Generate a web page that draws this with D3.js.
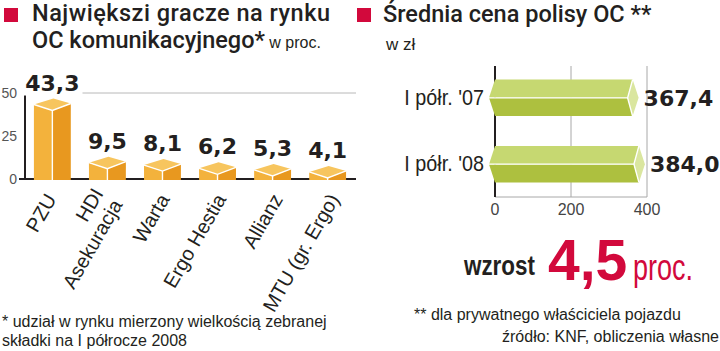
<!DOCTYPE html>
<html><head><meta charset="utf-8">
<script src="https://cdn.jsdelivr.net/npm/d3@7"></script>
<style>body{margin:0;background:#fff} svg{display:block}</style>
</head><body><svg id="c" width="720" height="351"></svg>
<script>
// ---------- data ----------
const companies = ["PZU", "HDI|Asekuracja", "Warta", "Ergo Hestia", "Allianz", "MTU (gr. Ergo)"];
const shares = [43.3, 9.5, 8.1, 6.2, 5.3, 4.1];
const shareLabels = ["43,3", "9,5", "8,1", "6,2", "5,3", "4,1"];
const shareTicks = [0, 25, 50];
const periods = ["I półr. '07", "I półr. '08"];
const prices = [367.4, 384.0];
const priceLabels = ["367,4", "384,0"];
const priceTicks = [0, 200, 400];

// ---------- styles ----------
const F = "'Liberation Sans', Arial, sans-serif";
const FT = "Roboto, 'Liberation Sans', sans-serif";
const FB = "'DejaVu Sans', sans-serif";
const dark = "#231f20";
const red = "#d2093c";
const svg = d3.select("#c");

function txt(g, x, y, s, o) {
  o = o || {};
  const t = g.append("text")
    .attr("transform", `translate(${x},${y})` + (o.sx ? ` scale(${o.sx},1)` : ""))
    .attr("font-family", o.family || F)
    .attr("font-size", o.size || 16)
    .attr("font-weight", o.weight || 400)
    .attr("fill", o.fill || dark)
    .attr("text-anchor", o.anchor || "start")
    .text(s);
  if (o.ls) t.attr("letter-spacing", o.ls);
  return t;
}

// ---------- titles ----------
svg.append("rect").attr("x", 4).attr("y", 8).attr("width", 14).attr("height", 14).attr("fill", red);
txt(svg, 32, 21, "Największi gracze na rynku", {family: FT, size: 23.5, weight: 500, ls: 0.5});
const t2 = txt(svg, 32, 48, "OC komunikacyjnego*", {family: FT, size: 23.5, weight: 500});
t2.append("tspan").attr("font-size", 16).attr("font-weight", 400).attr("font-family", F).text(" w proc.");

svg.append("rect").attr("x", 357).attr("y", 8).attr("width", 14).attr("height", 14).attr("fill", red);
txt(svg, 383, 22, "Średnia cena polisy OC **", {family: FT, size: 23.5, weight: 500});
txt(svg, 386, 50, "w zł", {size: 17});

// ---------- left chart ----------
const yL = d3.scaleLinear().domain([0, 50]).range([179, 93]);
const xL = d3.scaleBand().domain(companies).range([24, 356]).paddingInner(0.33).paddingOuter(0.18);
const xLab = d3.scalePoint().domain(companies).range([57, 340]);
const L = svg.append("g");

L.append("line").attr("x1", 24).attr("x2", 356).attr("y1", yL(50)).attr("y2", yL(50))
  .attr("stroke", "#b8b8b8").attr("stroke-width", 1);
L.selectAll(".yt").data(shareTicks).join("text")
  .attr("x", 17).attr("y", d => yL(d) + 5).attr("text-anchor", "end")
  .attr("font-family", F).attr("font-size", 14).attr("fill", "#555").text(d => d);
L.append("line").attr("x1", 19).attr("x2", 356).attr("y1", yL(0)).attr("y2", yL(0))
  .attr("stroke", dark).attr("stroke-width", 2);
L.append("line").attr("x1", 25).attr("x2", 25).attr("y1", yL(0) + 1).attr("y2", yL(50) + 1)
  .attr("stroke", dark).attr("stroke-width", 2);

const bw = xL.bandwidth();
const bars = L.selectAll(".bar").data(companies).join("g");
bars.each(function (c, i) {
  const g = d3.select(this);
  const cx = xL(c) + bw / 2, h = bw / 2, yc = yL(shares[i]), yb = yL(0) + 1;
  const Lp = [cx - h, yc], T = [cx + 1, yc - 6], R = [cx + h, yc - 1], B = [cx, yc + 6];
  const poly = pts => pts.map(p => p.join(",")).join(" ");
  g.append("polygon").attr("points", poly([Lp, B, [cx, yb], [cx - h, yb]])).attr("fill", "#f3b23c");
  g.append("polygon").attr("points", poly([B, R, [cx + h, yb], [cx, yb]])).attr("fill", "#e8981f");
  g.append("polygon").attr("points", poly([Lp, T, R, B])).attr("fill", "#f7c55e");
  g.append("polyline").attr("points", poly([Lp, B, R])).attr("fill", "none").attr("stroke", "#fff").attr("stroke-width", 1.4);
  g.append("line").attr("x1", cx).attr("x2", cx).attr("y1", B[1]).attr("y2", yb).attr("stroke", "#fff").attr("stroke-width", 1.4);
  // value label with white backing
  const lt = txt(g, cx, yc - 14, shareLabels[i], {family: FB, size: 22, weight: 700, anchor: "middle"});
  const bb = lt.node().getBBox();
  g.insert("rect", "text").attr("x", cx + bb.x - 3).attr("y", yc - 14 + bb.y).attr("width", bb.width + 6)
    .attr("height", bb.height).attr("fill", "#fff");
  // rotated category label
  const lines = c.split("|");
  const ct = g.append("text")
    .attr("transform", `translate(${xLab(c)},${yL(0) + 20}) rotate(-60)`)
    .attr("font-family", F).attr("font-size", 20).attr("fill", dark).attr("text-anchor", "end");
  lines.forEach((s, j) => {
    ct.append("tspan").attr("x", 0)
      .attr("dy", j === 0 ? `${-(lines.length - 1) * 0.55}em` : "1.1em").text(s);
  });
});

// ---------- right chart ----------
const xR = d3.scaleLinear().domain([0, 400]).range([495, 647]);
const yR = d3.scaleBand().domain(periods).range([63, 199]).paddingInner(0.45).paddingOuter(0.25);
const R = svg.append("g");
const gy0 = 66, gy1 = 197;
R.selectAll(".grid").data(priceTicks.slice(1)).join("line")
  .attr("x1", d => xR(d)).attr("x2", d => xR(d)).attr("y1", gy0).attr("y2", gy1)
  .attr("stroke", "#a8a8a8").attr("stroke-width", 1);
R.append("line").attr("x1", xR(0)).attr("x2", xR(400)).attr("y1", gy1).attr("y2", gy1)
  .attr("stroke", "#a8a8a8").attr("stroke-width", 1);
R.append("line").attr("x1", xR(0)).attr("x2", xR(0)).attr("y1", gy0).attr("y2", gy1)
  .attr("stroke", dark).attr("stroke-width", 2);
R.selectAll(".xt").data(priceTicks).join("text")
  .attr("x", d => xR(d)).attr("y", 215).attr("text-anchor", "middle")
  .attr("font-family", F).attr("font-size", 16).attr("fill", "#444").text(d => d);

periods.forEach((p, i) => {
  const g = R.append("g");
  const y0 = yR(p), y1 = yR(p) + yR.bandwidth(), ym = (y0 + y1) / 2;
  const x0 = xR(0), xv = xR(prices[i]);
  const poly = pts => pts.map(q => q.join(",")).join(" ");
  g.append("polygon").attr("points", poly([[x0 - 6, ym], [x0, y0], [xv - 2, y0], [xv - 7, ym]])).attr("fill", "#c6d871");
  g.append("polygon").attr("points", poly([[x0 - 6, ym], [x0, y1], [xv - 2, y1], [xv - 7, ym]])).attr("fill", "#adc03f");
  g.append("polygon").attr("points", poly([[xv - 2, y0], [xv + 4, ym], [xv - 2, y1], [xv - 7, ym]])).attr("fill", "#dae69f");
  g.append("polyline").attr("points", poly([[x0 - 6, ym], [xv - 7, ym], [xv - 2, y0]])).attr("fill", "none")
    .attr("stroke", "#fff").attr("stroke-width", 1.4);
  g.append("line").attr("x1", xv - 7).attr("y1", ym).attr("x2", xv - 2).attr("y2", y1)
    .attr("stroke", "#fff").attr("stroke-width", 1.4);
  txt(g, x0 - 11, ym + 7, p, {size: 22, anchor: "end", sx: 0.9});
  txt(g, xv + 9, ym + 8, priceLabels[i], {family: FB, size: 22, weight: 700});
});

// ---------- annotation ----------
txt(svg, 464, 275, "wzrost", {size: 28, weight: 700, sx: 0.8});
txt(svg, 548, 280, "4,5", {size: 57, weight: 700, fill: red});
txt(svg, 633, 280, "proc.", {size: 36, fill: red, sx: 0.75});

// ---------- footnotes ----------
txt(svg, 2, 327, "* udział w rynku mierzony wielkością zebranej", {size: 16});
txt(svg, 2, 346, "składki na I półrocze 2008", {size: 16});
txt(svg, 414, 320, "** dla prywatnego właściciela pojazdu", {size: 16});
txt(svg, 502, 342, "źródło: KNF, obliczenia własne", {size: 16});
</script></body></html>
